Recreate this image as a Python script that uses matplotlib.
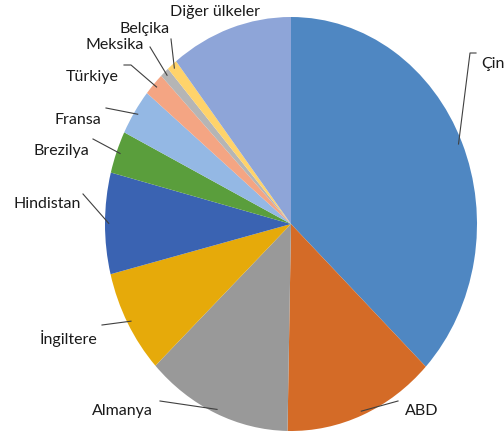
import numpy as np
import matplotlib
matplotlib.use("Agg")
import matplotlib.pyplot as plt

countries = ["Çin", "ABD", "Almanya", "İngiltere", "Hindistan", "Brezilya",
             "Fransa", "Türkiye", "Meksika", "Belçika", "Diğer ülkeler"]
shares = [37.1, 13.2, 12.7, 8.1, 7.9, 3.3, 3.6, 1.8, 0.8, 0.9, 10.6]
colors = ["#4f87c2", "#d46b27", "#999999", "#e6aa0a", "#3a63b2", "#5a9e3c",
          "#94b8e4", "#f4a583", "#b5b5b5", "#ffd36b", "#8ea5d8"]

# label layout in pixel coords: text anchor (x, y, ha) and leader line start
label_pos = [(481, 64, "left"), (405, 411, "left"), (153, 411, "right"),
             (97, 339, "right"), (81, 204, "right"), (89, 151, "right"),
             (101, 120, "right"), (119, 77, "right"), (144, 45, "right"),
             (170, 29, "right"), (170, 12, "left")]
leader_start = [(476, 54), (398, 402), (160, 402), (102, 326), (83, 195),
                (93, 140), (106, 109), (124, 66), (150, 48), (171, 40), None]
leader_elbow = [(470, 54), None, None, None, None, None, None,
                (131, 66), None, None, None]

W, H = 504, 439
CX, CY, RX, RY = 291, 225, 186, 207


def px(x, y):
    return (x - CX) / RX, (CY - y) / RY


fig = plt.figure(figsize=(W / 100, H / 100), dpi=100)
ax = fig.add_axes([0, 0, 1, 1])
wedges, _ = ax.pie(shares, colors=colors, startangle=90, counterclock=False,
                   radius=1.0, wedgeprops=dict(linewidth=0))
ax.set_aspect("auto")
ax.set_xlim(px(0, 0)[0], px(W, 0)[0])
ax.set_ylim(px(0, H)[1], px(0, 0)[1])
ax.axis("off")

for w, name, lp, ls, le in zip(wedges, countries, label_pos, leader_start, leader_elbow):
    mid = np.deg2rad((w.theta1 + w.theta2) / 2)
    end = (0.98 * np.cos(mid), 0.98 * np.sin(mid))
    if ls is not None:
        pts = [px(*ls)]
        if le is not None:
            pts.append(px(*le))
        pts.append(end)
        xs, ys = zip(*pts)
        ax.plot(xs, ys, color="#404040", lw=0.8)
    tx, ty = px(lp[0], lp[1])
    ax.text(tx, ty, name, ha=lp[2], va="center", fontsize=11.5,
            family=["Lato", "DejaVu Sans"], color="#1a1a1a")

fig.savefig("out.png", dpi=100)
